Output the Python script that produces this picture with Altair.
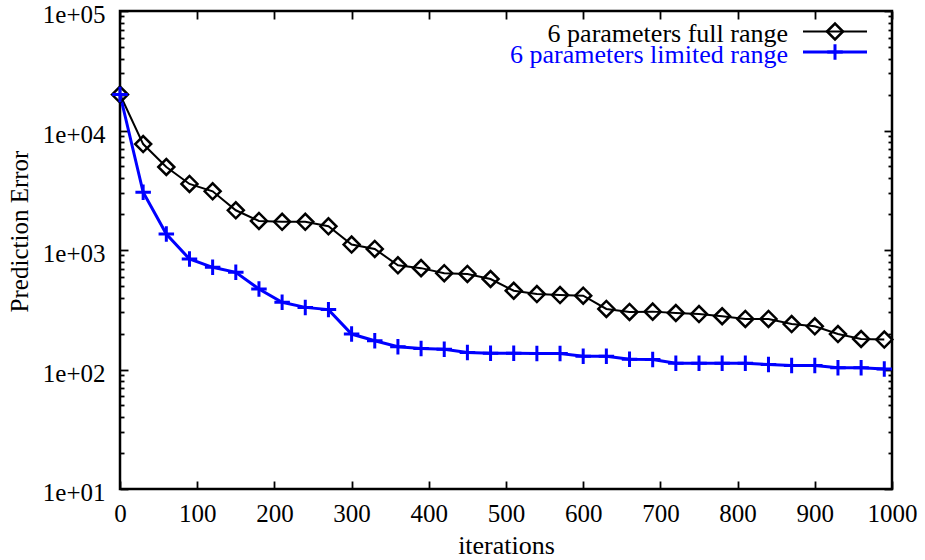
import altair as alt
import pandas as pd

# ---------------- data ----------------
series_names = ["6 parameters full range", "6 parameters limited range"]
series_colors = ["#000000", "#0000ff"]

iterations = [0, 30, 60, 90, 120, 150, 180, 210, 240, 270, 300, 330, 360, 390,
              420, 450, 480, 510, 540, 570, 600, 630, 660, 690, 720, 750, 780,
              810, 840, 870, 900, 930, 960, 990]

full_range = [20000, 7700, 4950, 3570, 3100, 2150, 1750, 1720, 1720, 1580,
              1110, 1020, 745, 705, 640, 630, 572, 456, 428, 420, 415, 321,
              303, 305, 297, 291, 279, 265, 265, 240, 230, 198, 180, 178]

limited_range = [20000, 3040, 1360, 841, 716, 651, 472, 365, 331, 317, 198,
                 174, 155, 150, 148, 139, 137, 137, 136, 136, 129, 129, 122,
                 121, 113, 113, 113, 113, 110, 108, 108, 103.5, 103.5, 101]

x_tick_values = [0, 100, 200, 300, 400, 500, 600, 700, 800, 900, 1000]
y_major = [10, 100, 1000, 10000, 100000]
y_minor = [m * d for d in [10, 100, 1000, 10000] for m in range(2, 10)]

df = pd.DataFrame({
    "iteration": iterations + iterations,
    "error": full_range + limited_range,
    "series": [series_names[0]] * len(iterations) + [series_names[1]] * len(iterations),
})
legend_df = pd.DataFrame({"series": series_names})

# ---------------- layout / style ----------------
W, H = 772, 478
FONT = "Liberation Serif"
FS = 25
LEGEND_FS = 26
PLUS = "M-1,0L1,0M0,-1L0,1"
marker_shapes = ["diamond", PLUS]
marker_sizes = [256, 240]
marker_strokes = [2.5, 3]
line_widths = [2, 3]
legend_rows = [20.5, 41]          # legend sample line y (plot coords)

xs = alt.Scale(domain=[0, 1000], nice=False, zero=False)
ys = alt.Scale(type="log", domain=[10, 100000], nice=False)
cs = alt.Scale(domain=series_names, range=series_colors)
sws = alt.Scale(domain=series_names, range=line_widths)

base = alt.Chart(df)

tick_size = {
    "condition": {"test": "indexof([10,100,1000,10000,100000], datum.value) >= 0", "value": 8},
    "value": 4,
}


def tick_layer(x_orient, y_orient, off_x, off_y):
    return base.mark_point(opacity=0).encode(
        x=alt.X("iteration:Q", scale=xs,
                axis=alt.Axis(orient=x_orient, offset=off_y, values=x_tick_values,
                              labels=False, ticks=True, tickSize=8, tickWidth=1.8,
                              tickColor="black", domain=False, grid=False, title=None)),
        y=alt.Y("error:Q", scale=ys,
                axis=alt.Axis(orient=y_orient, offset=off_x, values=y_major + y_minor,
                              labels=False, ticks=True, tickSize=tick_size, tickWidth=1.8,
                              tickColor="black", domain=False, grid=False, title=None)),
    )


ticks_a = tick_layer("top", "right", -W, -H)
ticks_b = tick_layer("bottom", "left", -W, -H)

lines = base.mark_line().encode(
    x=alt.X("iteration:Q", scale=xs,
            axis=alt.Axis(orient="bottom", values=x_tick_values, format="d",
                          ticks=False, tickSize=0,
                          domain=False, grid=False, labelFont=FONT, labelFontSize=FS,
                          labelColor="black", labelPadding=12, labelFlush=False,
                          labelOverlap=False, title="iterations", titleFont=FONT,
                          titleFontSize=26, titleFontWeight="normal", titleColor="black",
                          titleX=W / 2, titleY=64, titleAlign="center",
                          titleBaseline="alphabetic")),
    y=alt.Y("error:Q", scale=ys,
            axis=alt.Axis(orient="left", values=y_major,
                          labelExpr="'1e+0' + round(log(datum.value) / LN10)",
                          ticks=False, tickSize=0, domain=False, grid=False,
                          labelFont=FONT, labelFontSize=FS, labelColor="black",
                          labelPadding=15, labelBaseline="middle", labelOffset=3.5,
                          labelFlush=False, labelOverlap=False,
                          title="Prediction Error", titleFont=FONT,
                          titleFontSize=FS, titleFontWeight="normal", titleColor="black",
                          titleX=-93, titleY=220, titleAngle=270, titleAlign="center",
                          titleBaseline="alphabetic")),
    color=alt.Color("series:N", scale=cs, legend=None),
    strokeWidth=alt.StrokeWidth("series:N", scale=sws, legend=None),
)

point_layers = []
for name, col, shp, sz, sw in zip(series_names, series_colors, marker_shapes,
                                  marker_sizes, marker_strokes):
    point_layers.append(
        base.transform_filter(alt.datum.series == name)
        .mark_point(shape=shp, size=sz, filled=False, strokeWidth=sw, color=col, opacity=1)
        .encode(x=alt.X("iteration:Q", scale=xs, axis=None),
                y=alt.Y("error:Q", scale=ys, axis=None))
    )

legend_layers = []
for name, col, shp, sz, sw, lw, ly in zip(series_names, series_colors, marker_shapes,
                                          marker_sizes, marker_strokes, line_widths,
                                          legend_rows):
    src = alt.Chart(legend_df).transform_filter(alt.datum.series == name)
    legend_layers.append(
        src.mark_text(align="right", baseline="alphabetic", font=FONT, fontSize=LEGEND_FS,
                      color=col)
        .encode(text="series:N", x=alt.value(668), y=alt.value(ly + 10.5))
    )
    legend_layers.append(
        src.mark_rule(color=col, strokeWidth=lw)
        .encode(x=alt.value(683), x2=alt.value(747), y=alt.value(ly))
    )
    legend_layers.append(
        src.mark_point(shape=shp, size=sz, filled=False, strokeWidth=sw, color=col, opacity=1)
        .encode(x=alt.value(715), y=alt.value(ly))
    )

chart = (
    alt.layer(ticks_a, ticks_b, lines, *point_layers, *legend_layers)
    .resolve_axis(x="independent", y="independent")
    .properties(
        width=W, height=H,
        autosize=alt.AutoSizeParams(type="none"),
        padding={"left": 120, "top": 11, "right": 33, "bottom": 71},
        background="white",
    )
    .configure_view(stroke="black", strokeWidth=2.5)
)

chart.save("out.html", embed_options={"renderer": "svg", "actions": False})
